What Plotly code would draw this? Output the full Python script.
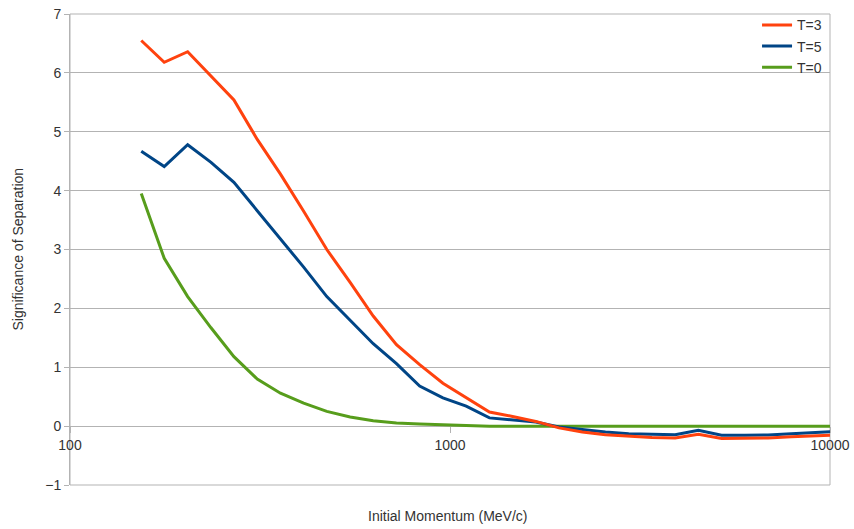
import plotly.graph_objects as go

# Initial momentum (MeV/c) of each simulated point
momentum = [154, 177, 204, 235, 270, 311, 358, 412, 474, 546, 628, 723, 832, 958,
            1103, 1270, 1461, 1682, 1936, 2229, 2565, 2953, 3399, 3913, 4504, 5185,
            5968, 6870, 7908, 9103, 10478]

# Significance of separation for each T setting
sig_t3 = [6.55, 6.18, 6.36, 5.95, 5.54, 4.87, 4.28, 3.65, 3.0, 2.44, 1.87, 1.385, 1.045,
          0.73, 0.48, 0.24, 0.165, 0.08, -0.03, -0.1, -0.145, -0.17, -0.195, -0.2,
          -0.14, -0.21, -0.21, -0.2, -0.18, -0.165, -0.15]
sig_t5 = [4.67, 4.41, 4.78, 4.48, 4.14, 3.66, 3.18, 2.70, 2.2, 1.80, 1.40, 1.06, 0.68,
          0.48, 0.34, 0.14, 0.11, 0.07, -0.015, -0.06, -0.10, -0.13, -0.135, -0.145,
          -0.07, -0.155, -0.155, -0.15, -0.13, -0.115, -0.09]
sig_t0 = [3.95, 2.85, 2.2, 1.67, 1.18, 0.8, 0.56, 0.39, 0.25, 0.155, 0.09, 0.055, 0.035,
          0.02, 0.01, 0.0, 0.0, 0.0, 0.0, 0.0, 0.0, 0.0, 0.0, 0.0, 0.0, 0.0, 0.0, 0.0,
          0.0, 0.0, 0.0]

series = [
    ("T=0", sig_t0, "#579D1C", 3),
    ("T=5", sig_t5, "#004586", 2),
    ("T=3", sig_t3, "#FF420E", 1),
]

FONT = "Liberation Sans, Arial, sans-serif"
GRID = "#b3b3b3"
TEXT = "#333333"
FS = 14

fig = go.Figure()
for name, vals, color, rank in series:
    fig.add_trace(go.Scatter(
        x=momentum, y=vals, name=name, mode="lines",
        line=dict(color=color, width=3),
        legendrank=rank,
    ))

fig.update_layout(
    width=854, height=529,
    margin=dict(l=70, r=24, t=14, b=44, autoexpand=False),
    paper_bgcolor="white", plot_bgcolor="white",
    font=dict(family=FONT, size=FS, color=TEXT),
    showlegend=True,
    legend=dict(
        x=0.904, y=1.01, xanchor="left", yanchor="top",
        bgcolor="rgba(0,0,0,0)", font=dict(size=FS, color=TEXT),
        tracegroupgap=0,
    ),
    xaxis=dict(
        type="log", range=[2, 4], automargin=False,
        tickvals=[100, 1000, 10000], ticktext=["100", "1000", "10000"],
        showgrid=False, zeroline=False,
        showline=True, linecolor=GRID, linewidth=1,
        ticks="outside", ticklen=6, tickcolor=GRID,
        anchor="free", position=0.125, layer="below traces",
        tickfont=dict(size=FS, color=TEXT),
    ),
    yaxis=dict(
        range=[-1, 7], dtick=1, tick0=0, automargin=False,
        showgrid=True, gridcolor=GRID, gridwidth=1, zeroline=False,
        showline=True, linecolor=GRID, linewidth=1,
        ticks="outside", ticklen=5, tickcolor=GRID, layer="below traces",
        tickfont=dict(size=FS, color=TEXT),
    ),
    shapes=[dict(type="rect", xref="paper", yref="paper", x0=0, x1=1, y0=0, y1=1,
                 line=dict(color=GRID, width=1), layer="below")],
    annotations=[
        dict(text="Initial Momentum (MeV/c)", xref="paper", yref="paper",
             x=0.497, y=-0.066, xanchor="center", yanchor="middle",
             showarrow=False, font=dict(size=FS, color=TEXT)),
        dict(text="Significance of Separation", xref="paper", yref="paper",
             x=-0.0697, y=0.5, xanchor="center", yanchor="middle", textangle=-90,
             showarrow=False, font=dict(size=FS, color=TEXT)),
    ],
)

fig.write_html("out.html")
